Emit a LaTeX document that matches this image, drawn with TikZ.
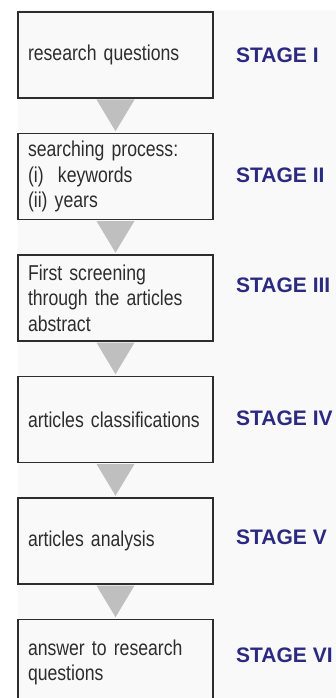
\documentclass[tikz,border=0pt]{standalone}
\usepackage{fontspec}
\setmainfont{Liberation Sans}
\newfontfamily\narrowfont[FakeStretch=0.82]{Liberation Sans}
\usepackage{xcolor}
\usepackage{tikz}
\usetikzlibrary{calc}

\definecolor{boxtext}{RGB}{45,45,45}
\definecolor{stageblue}{RGB}{43,42,128}
\definecolor{arrowgray}{RGB}{191,191,191}
\definecolor{backgray}{RGB}{249,249,249}

\begin{document}
\begin{tikzpicture}[x=1pt,y=-1pt,
	stagebox/.style={draw=boxtext,line width=1.5pt,fill=backgray,text=boxtext,
		text width=175pt,inner xsep=10pt,inner ysep=0pt,minimum height=86pt,
		align=left,font=\narrowfont\fontsize{21.5}{25.5}\selectfont},
	stagelabel/.style={anchor=west,text=stageblue,inner sep=0pt,
		font=\fontsize{21}{24}\selectfont\bfseries}]
		% background
		\useasboundingbox (0,0) rectangle (336,698);
		\clip (0,0) rectangle (336,698);
		\fill[white] (0,0) rectangle (336,698);
		\fill[backgray] (18,10) rectangle (336,698);
		%
		\node[stagebox] (S1) at (115.5,55) {research questions};
		\node[stagebox] (S2) at (115.5,176.5) {searching process:\\(i)\ \ keywords\\(ii) years};
		\node[stagebox] (S3) at (115.5,298) {First screening\\through the articles\\abstract};
		\node[stagebox] (S4) at (115.5,419.5) {articles classifications};
		\node[stagebox] (S5) at (115.5,541) {articles analysis};
		\node[stagebox] (S6) at (115.5,662.5) {answer to research\\questions};
		%
		\node[stagelabel] (L1) at (236,55) {STAGE I};
		\node[stagelabel] (L2) at (236,175) {STAGE II};
		\node[stagelabel] (L3) at (236,285) {STAGE III};
		\node[stagelabel] (L4) at (236,418) {STAGE IV};
		\node[stagelabel] (L5) at (236,537) {STAGE V};
		\node[stagelabel] (L6) at (236,655) {STAGE VI};
		%
		% down arrows
		\foreach \a/\b in {S1/S2,S2/S3,S3/S4,S4/S5,S5/S6}
			\fill[arrowgray] ($(\a.south)+(-19,0.75)$) -- ($(\a.south)+(19,0.75)$)
				-- ($(\b.north)+(0,-1.5)$) -- cycle;
	\end{tikzpicture}
\end{document}
